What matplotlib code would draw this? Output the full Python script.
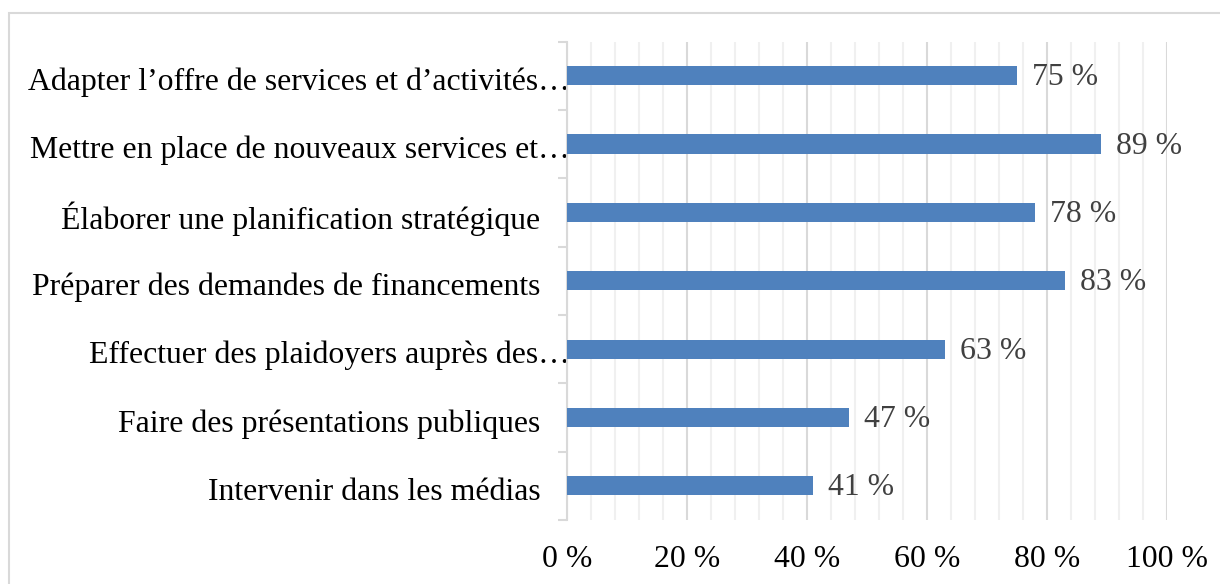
import matplotlib
matplotlib.use("Agg")
import matplotlib.pyplot as plt
from matplotlib.ticker import MultipleLocator, FixedLocator
from matplotlib.transforms import ScaledTranslation
from matplotlib.patches import Rectangle

categories = [
    "Adapter l’offre de services et d’activités…",
    "Mettre en place de nouveaux services et…",
    "Élaborer une planification stratégique",
    "Préparer des demandes de financements",
    "Effectuer des plaidoyers auprès des…",
    "Faire des présentations publiques",
    "Intervenir dans les médias",
]
values = [75, 89, 78, 83, 63, 47, 41]
truncated = [True, True, False, False, True, False, False]
xticks = [0, 20, 40, 60, 80, 100]
xticklabels = ["0 %", "20 %", "40 %", "60 %", "80 %", "100 %"]

plt.rcParams['font.family'] = ['Liberation Serif', 'DejaVu Serif']
FS = 22.9
W, H = 1220, 584
fig = plt.figure(figsize=(W / 100, H / 100), dpi=100)
ax = fig.add_axes([567 / W, 1 - 520 / H, 600 / W, (520 - 41.5) / H])

n = len(categories)
ypos = list(range(n))[::-1]
ax.barh(ypos, values, height=0.28, color="#4F81BD", zorder=3)
for y, v in zip(ypos, values):
    ax.annotate(f"{v} %", (v, y), xytext=(11, -1.5), textcoords="offset points",
                va="center", ha="left", fontsize=FS, color="#404040")

ax.set_xlim(0, 100)
ax.set_ylim(-0.5, n - 0.5)
ax.xaxis.set_major_locator(FixedLocator(xticks))
ax.set_xticklabels(xticklabels, fontsize=FS, color="black")
ax.xaxis.set_minor_locator(MultipleLocator(4))
ax.grid(axis="x", which="major", color="#d9d9d9", linewidth=1.5, zorder=0)
ax.grid(axis="x", which="minor", color="#f0f0f0", linewidth=1.5, zorder=0)
ax.tick_params(axis="x", which="both", length=0, pad=18)

ax.set_yticks(ypos)
ax.set_yticklabels(categories, fontsize=FS, color="black")
ax.tick_params(axis="y", which="major", length=0, pad=19)
ax.yaxis.set_minor_locator(FixedLocator([i - 0.5 for i in range(n + 1)]))
ax.tick_params(axis="y", which="minor", length=6.5, width=1.5, color="#d9d9d9")

# shift labels: truncated ones run up to the axis line; all slightly lower
labels = ax.get_yticklabels()
for lab, y in zip(labels, ypos):
    idx = n - 1 - y
    dx = 29 / 100 if truncated[idx] else 0
    lab.set_transform(lab.get_transform() + ScaledTranslation(dx, -3 / 100, fig.dpi_scale_trans))

for s in ["top", "right", "bottom"]:
    ax.spines[s].set_visible(False)
ax.spines["left"].set_color("#d9d9d9")
ax.spines["left"].set_linewidth(1.5)

# outer chart border (extends beyond the crop on the right and bottom)
fig.patches.append(Rectangle((8.5 / W, -0.1), 1.2, 1 - 12.5 / H + 0.1,
                             transform=fig.transFigure, fill=False,
                             edgecolor="#d9d9d9", linewidth=1.5))

fig.savefig("out.png", dpi=100)
